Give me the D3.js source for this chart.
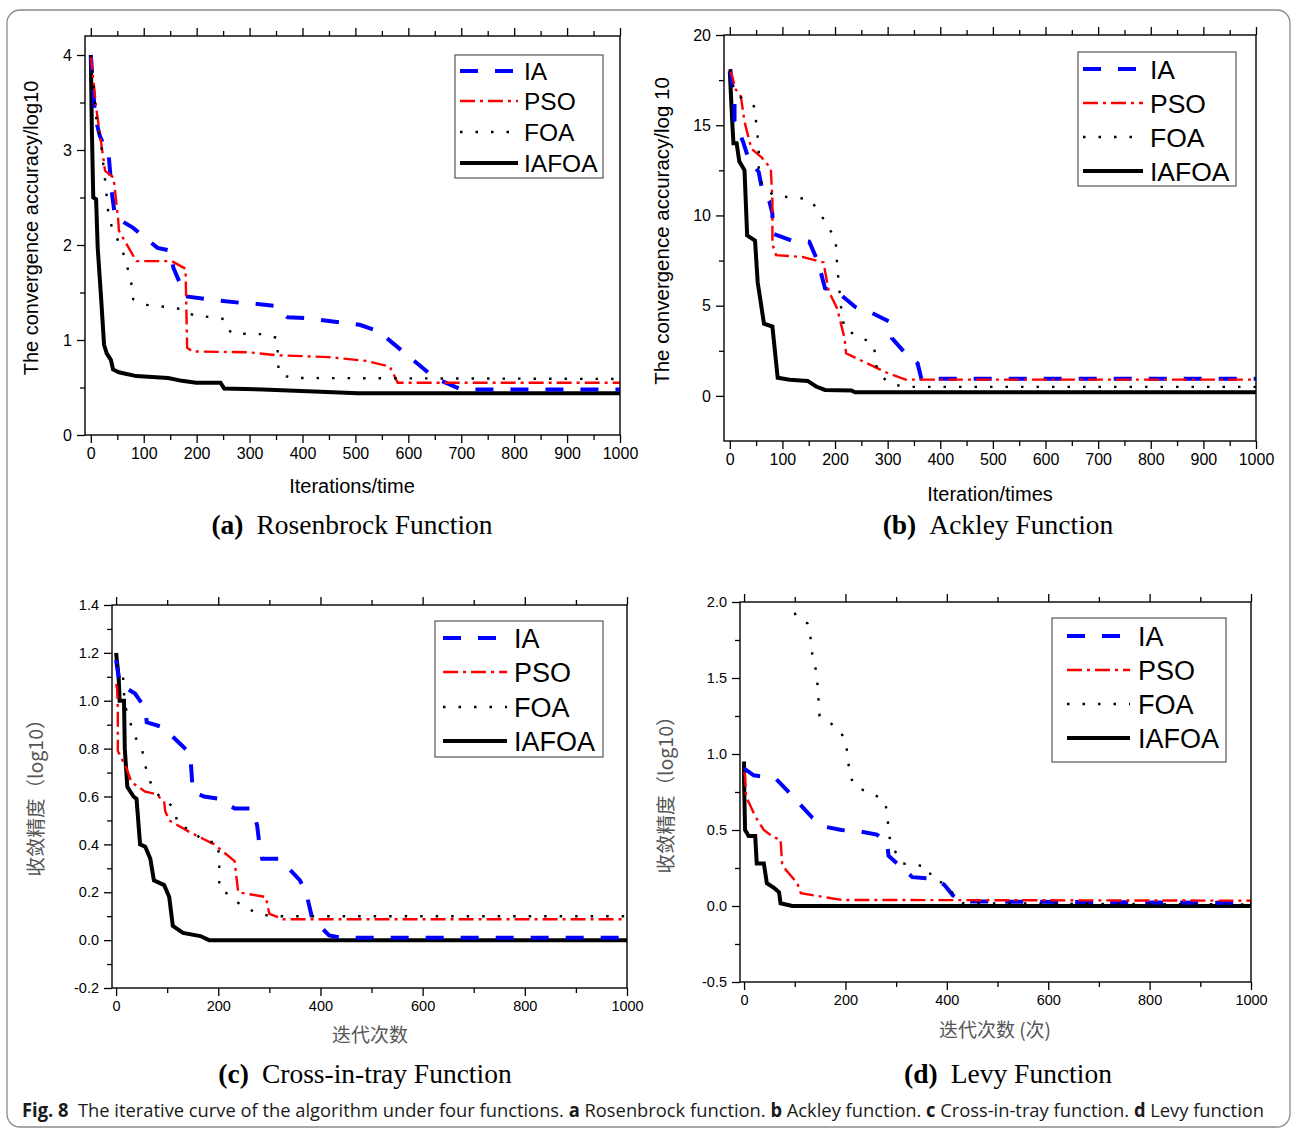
<!DOCTYPE html>
<html><head><meta charset="utf-8">
<script src="https://cdn.jsdelivr.net/npm/d3@7"></script>
<style>body{margin:0;background:#fff}svg{display:block}</style>
</head><body><svg id="c" width="1293" height="1130"></svg>
<script>
// ---------------- DATA ----------------
const seriesNames = ["IA", "PSO", "FOA", "IAFOA"];

const xTicksAB = [0,100,200,300,400,500,600,700,800,900,1000];
const xMinorAB = [50,150,250,350,450,550,650,750,850,950];
const xTicksCD = [0,200,400,600,800,1000];
const xMinorCD = [100,300,500,700,900];

const yTicksA = [0,1,2,3,4];
const yMinorA = [0.5,1.5,2.5,3.5];
const yTicksB = [0,5,10,15,20];
const yMinorB = [2.5,7.5,12.5,17.5];
const yTicksC = [-0.2,0.0,0.2,0.4,0.6,0.8,1.0,1.2,1.4];
const yMinorC = [-0.1,0.1,0.3,0.5,0.7,0.9,1.1,1.3];
const yTicksD = [-0.5,0.0,0.5,1.0,1.5,2.0];
const yMinorD = [-0.25,0.25,0.75,1.25,1.75];

// (a) Rosenbrock
const rosenIA = [[0,4.0],[8,3.35],[17,3.15],[34,2.93],[40,2.54],[46,2.29],[56,2.26],[80,2.18],[126,1.97],[151,1.94],[156,1.76],[179,1.46],[219,1.43],[285,1.39],[315,1.38],[348,1.36],[372,1.24],[405,1.23],[508,1.16],[544,1.09],[650,0.6],[700,0.48],[1000,0.48]];
const rosenPSO = [[0,4.0],[10,3.45],[27,2.78],[43,2.71],[52,2.25],[53,2.15],[86,1.83],[153,1.83],[179,1.75],[182,0.92],[192,0.88],[300,0.87],[350,0.84],[450,0.82],[520,0.78],[565,0.72],[580,0.55],[1000,0.55]];
const rosenFOA = [[0,4.0],[10,3.35],[20,3.03],[27,2.68],[33,2.34],[40,2.18],[53,2.03],[63,1.89],[76,1.62],[80,1.43],[103,1.37],[139,1.35],[179,1.32],[193,1.26],[229,1.24],[252,1.22],[265,1.07],[332,1.06],[352,1.02],[355,0.65],[378,0.6],[1000,0.59]];
const rosenIAFOA = [[0,4.0],[2,3.2],[4.6,2.5],[10,2.48],[13,1.97],[19,1.48],[25,0.95],[30,0.86],[38,0.79],[42,0.69],[53,0.66],[86,0.62],[146,0.6],[172,0.57],[199,0.55],[245,0.55],[252,0.49],[325,0.48],[458,0.45],[504,0.44],[1000,0.44]];

// (b) Ackley
const ackleyIA = [[1,18.1],[9,16.2],[9,15.2],[25,14.1],[35,13.2],[55,12.4],[61,11.5],[75,10.8],[81,10.1],[81,9.0],[118,8.6],[151,8.55],[168,7.4],[181,5.96],[211,5.6],[238,4.94],[271,4.58],[304,4.1],[308,3.2],[331,2.45],[357,1.8],[364,0.95],[1000,0.95]];
const ackleyPSO = [[1,18.1],[11,17.0],[21,16.6],[28,15.2],[41,13.7],[61,13.2],[78,12.6],[81,10.8],[81,8.4],[88,7.8],[138,7.7],[178,7.4],[188,5.8],[204,4.85],[218,3.2],[221,2.36],[261,1.8],[301,1.25],[334,0.9],[1000,0.9]];
const ackleyFOA = [[1,18.1],[8,16.8],[18,16.6],[48,16.0],[51,14.8],[55,13.9],[55,12.2],[65,11.5],[85,11.1],[151,10.9],[168,10.3],[184,9.5],[201,8.7],[204,7.25],[211,5.0],[218,3.65],[248,3.3],[274,2.8],[278,1.7],[288,1.07],[308,0.65],[334,0.5],[1000,0.5]];
const ackleyIAFOA = [[0,18.0],[5,15.0],[7,14.0],[13,14.0],[18,13.0],[28,12.5],[33,8.9],[48,8.6],[53,6.3],[65,4.0],[81,3.84],[91,1.0],[114,0.89],[148,0.83],[164,0.52],[181,0.33],[231,0.3],[238,0.2],[1000,0.2]];

// (c) Cross-in-tray
const crossIA = [[0,1.17],[7,1.07],[37,1.03],[57,0.97],[60,0.91],[91,0.89],[145,0.78],[148,0.69],[150,0.62],[172,0.6],[202,0.59],[232,0.55],[266,0.55],[276,0.48],[280,0.41],[286,0.34],[320,0.34],[360,0.25],[374,0.18],[384,0.09],[417,0.02],[441,0.01],[1000,0.01]];
const crossPSO = [[0,1.07],[2,1.05],[3.4,0.97],[3.4,0.79],[20,0.72],[30,0.66],[57,0.62],[78,0.61],[94,0.58],[96,0.54],[104,0.5],[145,0.45],[192,0.4],[232,0.33],[239,0.2],[293,0.18],[300,0.11],[327,0.087],[1000,0.087]];
const crossFOA = [[0,1.15],[7,1.14],[13,1.12],[17,0.98],[24,0.94],[34,0.86],[51,0.8],[54,0.75],[64,0.68],[74,0.62],[94,0.59],[114,0.55],[121,0.48],[148,0.46],[172,0.41],[199,0.41],[202,0.33],[202,0.21],[222,0.19],[242,0.15],[269,0.12],[300,0.1],[1000,0.1]];
const crossIAFOA = [[0,1.2],[5,1.1],[7,1.0],[15.5,1.0],[17,0.8],[22,0.64],[34,0.6],[40,0.59],[47,0.4],[57,0.39],[67,0.34],[74,0.25],[94,0.23],[104,0.18],[111,0.06],[131,0.03],[165,0.017],[182,0.0],[1000,0.0]];

// (d) Levy
const levyIA = [[0,0.9],[2,0.9],[19,0.86],[62,0.84],[85,0.76],[135,0.58],[162,0.52],[192,0.5],[229,0.49],[262,0.47],[282,0.42],[285,0.33],[332,0.19],[372,0.18],[395,0.14],[412,0.07],[432,0.03],[1000,0.02]];
const levyPSO = [[0,0.88],[2,0.86],[4,0.72],[22,0.59],[39,0.5],[59,0.45],[72,0.44],[75,0.28],[82,0.24],[105,0.15],[112,0.084],[145,0.066],[192,0.04],[1000,0.035]];
const levyFOA = [[100,1.93],[102,1.91],[125,1.86],[132,1.75],[135,1.64],[142,1.55],[145,1.45],[149,1.25],[172,1.2],[192,1.14],[202,1.05],[209,0.85],[222,0.78],[252,0.74],[275,0.7],[282,0.63],[285,0.5],[289,0.41],[312,0.28],[362,0.26],[372,0.17],[395,0.15],[415,0.07],[432,0.018],[1000,0.01]];
const levyIAFOA = [[0,0.95],[0,0.83],[2,0.5],[9,0.46],[22,0.46],[25,0.28],[39,0.28],[45,0.15],[59,0.12],[69,0.09],[72,0.018],[95,0.0],[1000,0.0]];

const panelTitles = [["(a)","Rosenbrock Function"],["(b)","Ackley Function"],["(c)","Cross-in-tray Function"],["(d)","Levy Function"]];
const xTitles = ["Iterations/time","Iteration/times","迭代次数","迭代次数 (次)"];
const yTitles = ["The convergence accuracy/log10","The convergence accuracy/log 10","收敛精度（log10）","收敛精度（log10）"];

// ---------------- STYLE / LAYOUT ----------------
const styles = {
  IA:    {color:"#0000ff", width:4,   dash:"18,17", cap:"butt"},
  PSO:   {color:"#ff0000", width:2.4, dash:"15,5,3,5", cap:"butt"},
  FOA:   {color:"#000000", width:2.4, dash:"2.5,13", cap:"butt"},
  IAFOA: {color:"#000000", width:4,   dash:null, cap:"butt"}
};
const drawOrder = ["IAFOA","IA","PSO","FOA"];
const loc = d3.formatLocale({decimal:".", thousands:",", grouping:[3], currency:["",""], minus:"-"});

const panels = [
  {data:{IA:rosenIA,PSO:rosenPSO,FOA:rosenFOA,IAFOA:rosenIAFOA},
   L:85,R:620,T:36,B:435, xDom:[-11,1000], yDom:[0,4.2],
   xT:xTicksAB,xM:xMinorAB,yT:yTicksA,yM:yMinorA,yFmt:loc.format("d"),tickFont:16,
   xTitle:{x:352,y:493,size:20,cjk:false}, yTitle:{x:38,y:228,size:20,cjk:false},
   sub:{x:352,y:534},
   leg:{x:455,y:55,w:148,h:123,rows:[71,101,132,163],l0:460,l1:518,tx:524,fs:24.5}},
  {data:{IA:ackleyIA,PSO:ackleyPSO,FOA:ackleyFOA,IAFOA:ackleyIAFOA},
   L:724,R:1256,T:35,B:441, xDom:[-11,1000], yDom:[-2.5,20],
   xT:xTicksAB,xM:xMinorAB,yT:yTicksB,yM:yMinorB,yFmt:loc.format("d"),tickFont:16,
   xTitle:{x:990,y:501,size:20,cjk:false}, yTitle:{x:669,y:231,size:20.5,cjk:false},
   sub:{x:998,y:534},
   leg:{x:1078,y:52,w:158,h:134,rows:[69,103,137,171],l0:1083,l1:1143,tx:1150,fs:26.5}},
  {data:{IA:crossIA,PSO:crossPSO,FOA:crossFOA,IAFOA:crossIAFOA},
   L:112,R:627,T:605,B:988, xDom:[-8,1000], yDom:[-0.2,1.4],
   xT:xTicksCD,xM:xMinorCD,yT:yTicksC,yM:yMinorC,yFmt:loc.format(".1f"),tickFont:14.5,
   xTitle:{x:370,y:1042,size:19,cjk:true}, yTitle:{x:43,y:793,size:19.5,cjk:true},
   sub:{x:365,y:1083},
   leg:{x:435,y:621,w:168,h:136,rows:[638,672,707,741],l0:443,l1:507,tx:514,fs:27}},
  {data:{IA:levyIA,PSO:levyPSO,FOA:levyFOA,IAFOA:levyIAFOA},
   L:740,R:1251,T:602,B:982, xDom:[-8,1000], yDom:[-0.5,2.0],
   xT:xTicksCD,xM:xMinorCD,yT:yTicksD,yM:yMinorD,yFmt:loc.format(".1f"),tickFont:14.5,
   xTitle:{x:995,y:1037,size:19,cjk:true}, yTitle:{x:673,y:790,size:19.5,cjk:true},
   sub:{x:1008,y:1083},
   leg:{x:1052,y:618,w:174,h:144,rows:[636,670,704,738],l0:1067,l1:1130,tx:1138,fs:27}}
];

const svg = d3.select("#c");
svg.append("rect").attr("width",1293).attr("height",1130).attr("fill","#fff");
// outer rounded border
svg.append("rect").attr("x",7).attr("y",10).attr("width",1283).attr("height",1117)
  .attr("rx",13).attr("fill","none").attr("stroke","#8a8a8a").attr("stroke-width",1.3);

const sansFont = "'Liberation Sans', Arial, sans-serif";
const cjkFont = "'Noto Sans CJK SC', sans-serif";

panels.forEach((p,i) => {
  const x = d3.scaleLinear().domain(p.xDom).range([p.L,p.R]);
  const y = d3.scaleLinear().domain(p.yDom).range([p.B,p.T]);
  const g = svg.append("g");

  const clipId = "clip"+i;
  svg.append("clipPath").attr("id",clipId).append("rect")
    .attr("x",p.L).attr("y",p.T).attr("width",p.R-p.L).attr("height",p.B-p.T);

  const styleAxis = (sel, labels) => {
    sel.select(".domain").remove();
    sel.selectAll("line").attr("stroke","#000").attr("stroke-width",1.3);
    sel.selectAll("text").attr("fill","#000").style("font-family",sansFont).style("font-size",p.tickFont+"px");
    if(!labels) sel.selectAll("text").remove();
  };
  g.append("g").attr("transform",`translate(0,${p.B})`)
    .call(d3.axisBottom(x).tickValues(p.xT).tickSize(8).tickPadding(5).tickFormat(loc.format("d"))).call(s=>styleAxis(s,true));
  g.append("g").attr("transform",`translate(0,${p.B})`)
    .call(d3.axisBottom(x).tickValues(p.xM).tickSize(5)).call(s=>styleAxis(s,false));
  g.append("g").attr("transform",`translate(0,${p.T})`)
    .call(d3.axisTop(x).tickValues(p.xT).tickSize(8)).call(s=>styleAxis(s,false));
  g.append("g").attr("transform",`translate(0,${p.T})`)
    .call(d3.axisTop(x).tickValues(p.xM).tickSize(5)).call(s=>styleAxis(s,false));
  g.append("g").attr("transform",`translate(${p.L},0)`)
    .call(d3.axisLeft(y).tickValues(p.yT).tickSize(8).tickPadding(5).tickFormat(p.yFmt)).call(s=>styleAxis(s,true));
  g.append("g").attr("transform",`translate(${p.L},0)`)
    .call(d3.axisLeft(y).tickValues(p.yM).tickSize(5)).call(s=>styleAxis(s,false));

  const line = d3.line().x(d=>x(d[0])).y(d=>y(d[1]));
  const lg = g.append("g").attr("clip-path",`url(#${clipId})`);
  drawOrder.forEach(name => {
    const st = styles[name];
    lg.append("path").datum(p.data[name]).attr("d",line)
      .attr("fill","none").attr("stroke",st.color).attr("stroke-width",st.width)
      .attr("stroke-dasharray",st.dash).attr("stroke-linecap",st.cap).attr("stroke-linejoin","miter");
  });

  g.append("rect").attr("x",p.L).attr("y",p.T).attr("width",p.R-p.L).attr("height",p.B-p.T)
    .attr("fill","none").attr("stroke","#000").attr("stroke-width",1.4);

  const L = p.leg;
  g.append("rect").attr("x",L.x).attr("y",L.y).attr("width",L.w).attr("height",L.h)
    .attr("fill","#fff").attr("stroke","#555").attr("stroke-width",1.2);
  seriesNames.forEach((name,k) => {
    const st = styles[name];
    g.append("line").attr("x1",L.l0).attr("x2",L.l1).attr("y1",L.rows[k]).attr("y2",L.rows[k])
      .attr("stroke",st.color).attr("stroke-width",st.width).attr("stroke-dasharray",st.dash);
    g.append("text").attr("x",L.tx).attr("y",L.rows[k]).attr("dy","0.36em")
      .style("font-family",sansFont).style("font-size",L.fs+"px").attr("fill","#000").text(name);
  });

  const xt = p.xTitle, yt = p.yTitle;
  g.append("text").attr("x",xt.x).attr("y",xt.y).attr("text-anchor","middle")
    .style("font-family", xt.cjk ? cjkFont : sansFont).style("font-size",xt.size+"px")
    .attr("fill", xt.cjk ? "#555" : "#000").text(xTitles[i]);
  g.append("text").attr("transform",`translate(${yt.x},${yt.y}) rotate(-90)`).attr("text-anchor","middle")
    .style("font-family", yt.cjk ? cjkFont : sansFont).style("font-size",yt.size+"px")
    .attr("fill", yt.cjk ? "#555" : "#000").text(yTitles[i]);

  const st = g.append("text").attr("x",p.sub.x).attr("y",p.sub.y).attr("text-anchor","middle")
    .style("font-family","'Liberation Serif', 'Times New Roman', serif").style("font-size","27.5px").attr("fill","#000");
  st.append("tspan").style("font-weight","bold").text(panelTitles[i][0]);
  st.append("tspan").attr("dx",13).text(panelTitles[i][1]);
});

// caption (scaled horizontally to mimic the condensed journal font)
const capG = svg.append("g");
const cap = capG.append("text").attr("x",0).attr("y",0)
  .style("font-family","'Open Sans', 'Noto Sans', sans-serif").style("font-size","19px").attr("fill","#1a1a1a")
  .style("white-space","pre");
const capParts = [["Fig. 8",true],["  The iterative curve of the algorithm under four functions. ",false],["a",true],[" Rosenbrock function. ",false],["b",true],[" Ackley function. ",false],["c",true],[" Cross-in-tray function. ",false],["d",true],[" Levy function",false]];
capParts.forEach(([t,b]) => cap.append("tspan").style("font-weight",b?"bold":"normal").text(t));
const capW = cap.node().getComputedTextLength();
capG.attr("transform",`translate(22,1117) scale(${1243/capW},1)`);
</script>
</body></html>
